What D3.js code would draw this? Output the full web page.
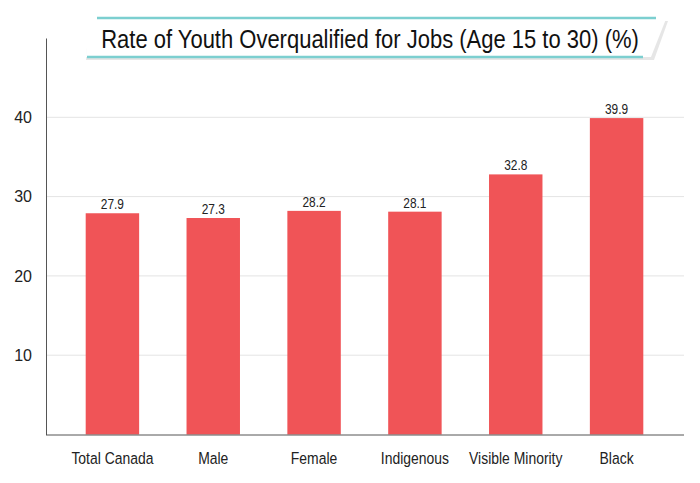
<!DOCTYPE html>
<html>
<head>
<meta charset="utf-8">
<script src="https://cdn.jsdelivr.net/npm/d3@7"></script>
<style>
  body { margin: 0; background: #fff; }
  text { font-family: "Liberation Sans", Arial, sans-serif; fill: #222; }
</style>
</head>
<body>
<div id="chart"></div>
<script>
// data
const categories = ['Total Canada', 'Male', 'Female', 'Indigenous', 'Visible Minority', 'Black'];
const values = [27.9, 27.3, 28.2, 28.1, 32.8, 39.9];
const yTicks = [10, 20, 30, 40];
const title = 'Rate of Youth Overqualified for Jobs (Age 15 to 30) (%)';

const width = 700,
    height = 483;

// narrow look: squeeze the text sideways
const squeeze = 0.82;

const svg = d3.select('#chart').append('svg')
    .attr('width', width)
    .attr('height', height);

// scales
const x = d3.scaleBand().domain(categories).range([62, 667]).paddingInner(0.47).paddingOuter(0.235);
const y = d3.scaleLinear().domain([0, 50]).range([434.5, 38]);

// gridlines
svg.append('g')
    .selectAll('line')
    .data(yTicks)
    .enter()
    .append('line')
    .attr('x1', 46)
    .attr('x2', 684)
    .attr('y1', d => y(d))
    .attr('y2', d => y(d))
    .style('stroke', '#e4e4e4')
    .style('stroke-width', 1);

// bars
svg.append('g')
    .selectAll('rect')
    .data(values)
    .enter()
    .append('rect')
    .attr('x', (d, i) => x(categories[i]))
    .attr('y', d => y(d))
    .attr('width', x.bandwidth())
    .attr('height', d => y(0) - y(d))
    .style('fill', '#f05457');

// value labels
svg.append('g')
    .selectAll('text')
    .data(values)
    .enter()
    .append('text')
    .attr('transform', (d, i) => 'translate(' + (x(categories[i]) + x.bandwidth() / 2) + ',' + (y(d) - 4) + ') scale(0.85,1)')
    .attr('text-anchor', 'middle')
    .style('font-size', '14px')
    .text(d => d.toFixed(1));

// y axis
const yAxis = svg.append('g')
    .attr('transform', 'translate(46,0)')
    .call(d3.axisLeft(y).tickValues(yTicks).tickSize(0).tickPadding(14));
yAxis.select('.domain').style('stroke', '#555');
yAxis.selectAll('text').style('font-size', '16px').style('fill', '#222')
    .style('font-family', '"Liberation Sans", sans-serif');

// x axis
const xAxis = svg.append('g')
    .attr('transform', 'translate(0,' + y(0) + ')')
    .call(d3.axisBottom(x).tickSize(0).tickPadding(17));
xAxis.select('.domain').attr('d', 'M46,0.5H684').style('stroke', '#555');
xAxis.selectAll('text').style('font-size', '17px').style('fill', '#222')
    .style('font-family', '"Liberation Sans", sans-serif')
    .attr('transform', 'scale(' + squeeze + ',1)');

// title box
const titleBox = svg.append('g');
titleBox.append('polygon')
    .attr('points', '89,21 668,21 654,60 86,60')
    .style('fill', '#e6e6e6');
titleBox.append('polygon')
    .attr('points', '88,18 666,19 651,57 86,57')
    .style('fill', '#fff');
titleBox.append('line')
    .attr('x1', 97).attr('x2', 656).attr('y1', 18).attr('y2', 18)
    .style('stroke', '#7ccfd0').style('stroke-width', 2.5);
titleBox.append('line')
    .attr('x1', 87).attr('x2', 643).attr('y1', 57).attr('y2', 57)
    .style('stroke', '#7ccfd0').style('stroke-width', 2.5);
const titleText = titleBox.append('text')
    .attr('text-anchor', 'middle')
    .style('font-size', '25px')
    .style('fill', '#111')
    .text(title);
// squeeze title to fit inside the box (about 538px wide)
const titleScale = 538 / titleText.node().getComputedTextLength();
titleText.attr('transform', 'translate(370,48) scale(' + titleScale + ',1)');
</script>
</body>
</html>
